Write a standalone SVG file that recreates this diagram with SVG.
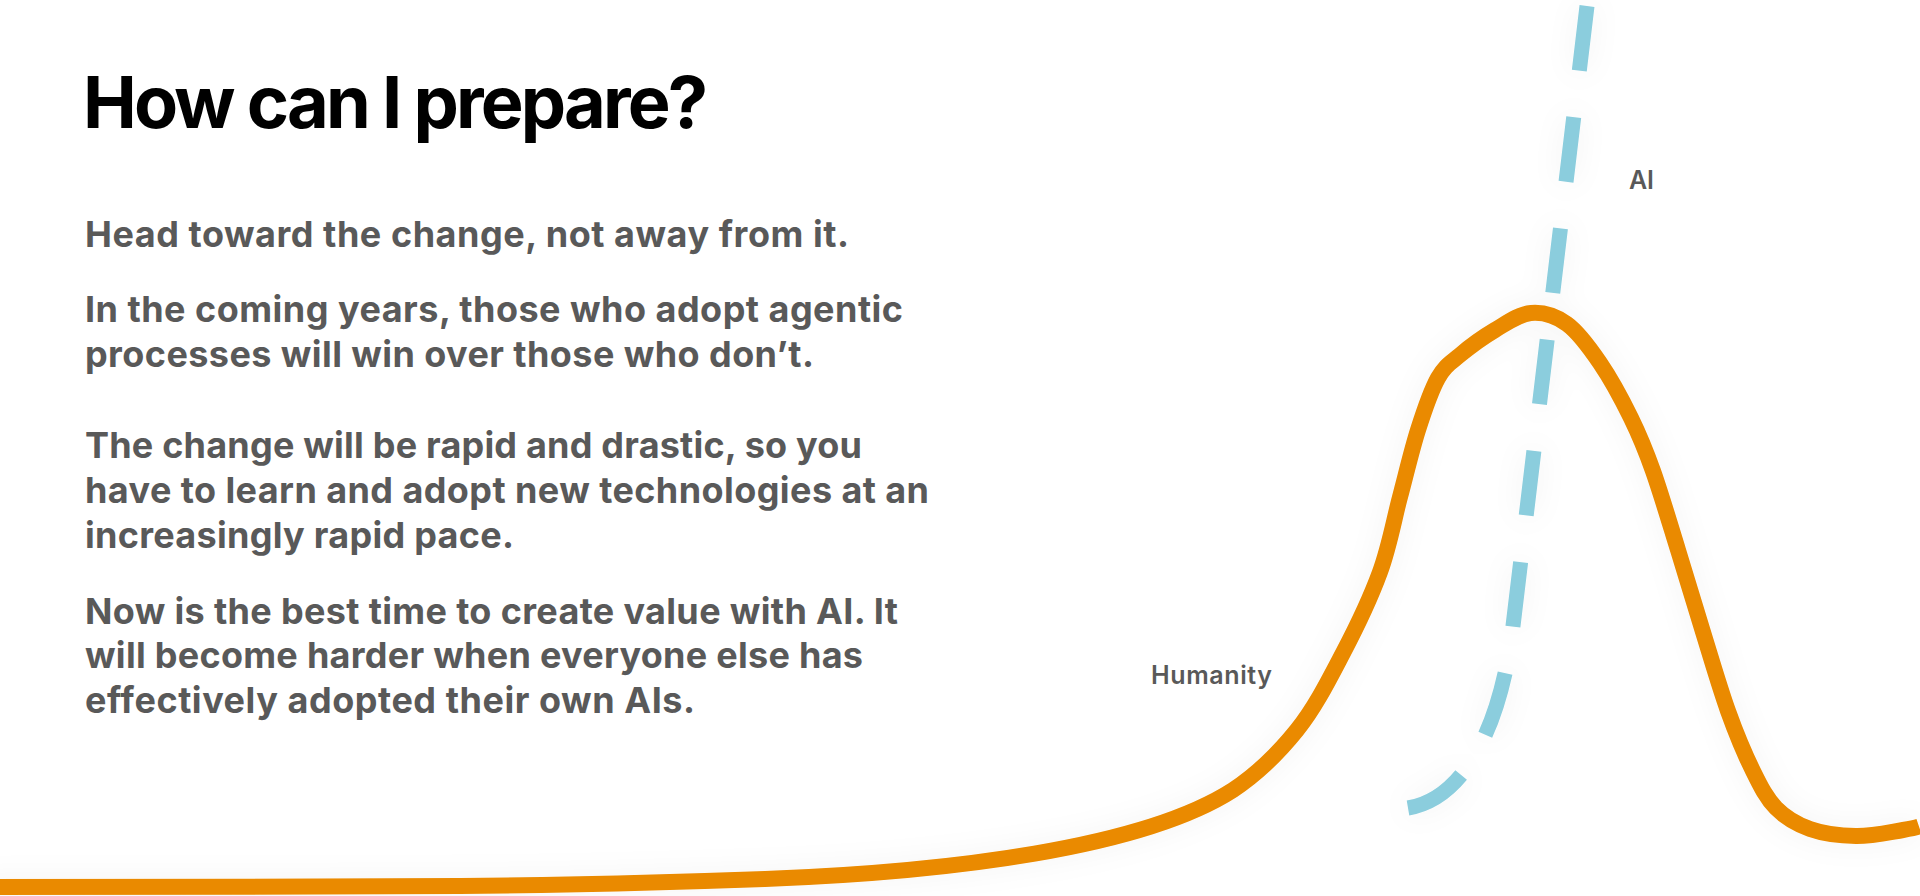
<svg xmlns="http://www.w3.org/2000/svg" width="1920" height="896" viewBox="0 0 1920 896">
  <defs>
    <style>
      .title { font-family: Inter, "Open Sans", "Liberation Sans", sans-serif; font-weight: 700; font-size: 72px; fill: #000000; }
      .body { font-family: Inter, "Open Sans", "Liberation Sans", sans-serif; font-weight: 700; font-size: 36px; fill: #595959; }
      .label { font-family: Inter, "Open Sans", "Liberation Sans", sans-serif; font-weight: 600; font-size: 25px; fill: #595959; }
      .humanity { fill: none; stroke: #EA8A00; stroke-width: 16; stroke-linecap: butt; stroke-linejoin: round; }
      .ai { fill: none; stroke: #8BCDDD; stroke-width: 15; stroke-linecap: butt; stroke-dasharray: 65 47; }
    </style>
    <filter id="halo" x="-20%" y="-20%" width="140%" height="140%">
      <feDropShadow dx="0" dy="0" stdDeviation="14" flood-color="#000000" flood-opacity="0.05"/>
    </filter>
  </defs>
  <rect x="0" y="0" width="1920" height="896" fill="#FFFFFF"/>

  <g id="title">
    <text class="title" x="83" y="128" textLength="625" lengthAdjust="spacing">How can I prepare?</text>
  </g>

  <g id="body">
    <text class="body" x="85" y="246.5" textLength="764" lengthAdjust="spacing">Head toward the change, not away from it.</text>
    <text class="body" x="85" y="322" textLength="818" lengthAdjust="spacing">In the coming years, those who adopt agentic</text>
    <text class="body" x="85" y="367" textLength="729" lengthAdjust="spacing">processes will win over those who don’t.</text>
    <text class="body" x="85" y="458" textLength="777" lengthAdjust="spacing">The change will be rapid and drastic, so you</text>
    <text class="body" x="85" y="503" textLength="844" lengthAdjust="spacing">have to learn and adopt new technologies at an</text>
    <text class="body" x="85" y="548" textLength="429" lengthAdjust="spacing">increasingly rapid pace.</text>
    <text class="body" x="85" y="624" textLength="813" lengthAdjust="spacing">Now is the best time to create value with AI. It</text>
    <text class="body" x="85" y="668" textLength="778" lengthAdjust="spacing">will become harder when everyone else has</text>
    <text class="body" x="85" y="712.5" textLength="610" lengthAdjust="spacing">effectively adopted their own AIs.</text>
  </g>

  <g id="connectors" filter="url(#halo)">
    <path id="humanity-curve" class="humanity" d="M-20,887 C60,886.8 329.2,887.3 460,886 C590.8,884.7 688.7,881.8 765,879 C950,872 1143,848 1233,790 C1257.5,773.7 1278.7,752.8 1297,730 C1315.3,707.2 1329.2,679.3 1343,653 C1356.8,626.7 1370.5,598 1380,572 C1389.5,546 1393.7,520.7 1400,497 C1406.3,473.3 1411.7,449.8 1418,430 C1424.3,410.2 1431,390.5 1438,378 C1445,365.5 1450.5,363 1460,355 C1469.5,347 1483.2,337 1495,330 C1506.8,323 1519,314 1531,313 C1543,312 1555.5,315.7 1567,324 C1578.5,332.3 1589.3,347.3 1600,363 C1610.7,378.7 1622.2,400 1631,418 C1639.8,436 1645.2,449 1653,471 C1660.8,493 1669.7,523.2 1678,550 C1686.3,576.8 1694.7,605.2 1703,632 C1711.3,658.8 1719.7,687.8 1728,711 C1736.3,734.2 1745,754.8 1753,771 C1761,787.2 1766.5,798.3 1776,808 C1785.5,817.7 1796.7,824.3 1810,829 C1823.3,833.7 1840.5,835.8 1856,836 C1871.5,836.2 1889,832.3 1903,830 C1912,828.5 1916,827.5 1919,826.5"/>
    <path id="ai-curve" class="ai" d="M1587,6 L1513,626 C1503,710 1472,797 1408,808"/>
  </g>

  <g id="label-humanity">
    <text class="label" x="1151" y="684" textLength="121" lengthAdjust="spacing">Humanity</text>
  </g>
  <g id="label-ai">
    <text class="label" x="1629" y="189" font-size="26" textLength="25" lengthAdjust="spacing">AI</text>
  </g>
</svg>
